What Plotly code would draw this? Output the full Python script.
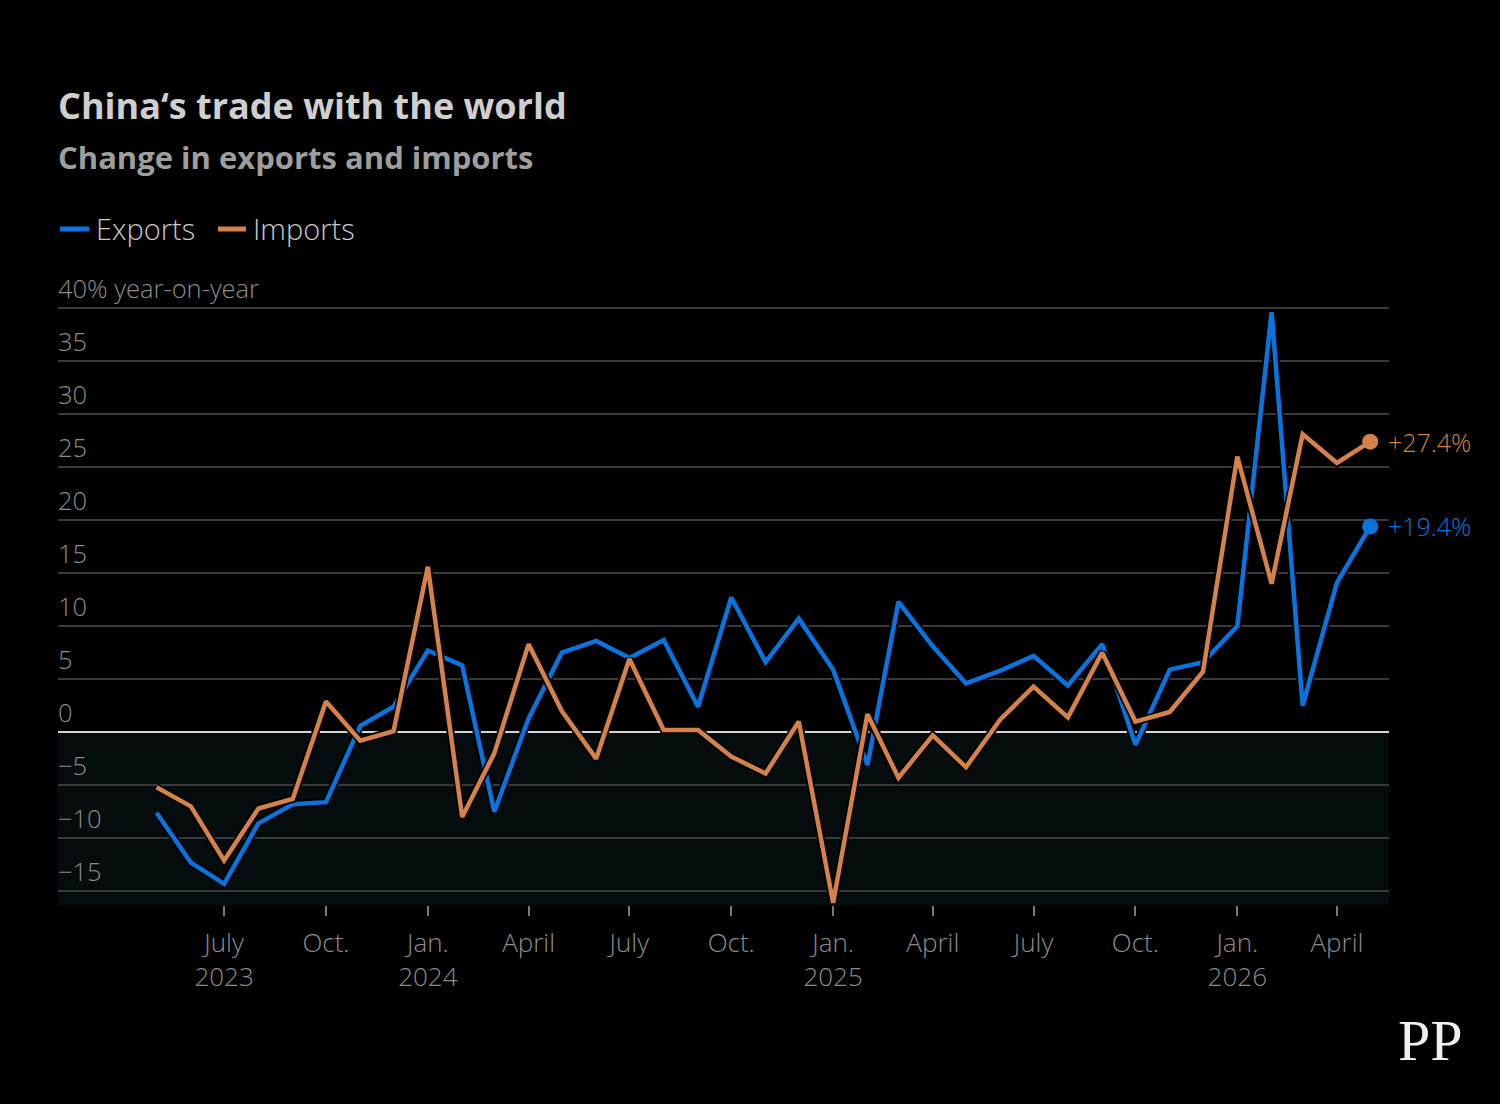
import plotly.graph_objects as go

months = ["2023-05-01", "2023-06-01", "2023-07-01", "2023-08-01", "2023-09-01", "2023-10-01",
          "2023-11-01", "2023-12-01", "2024-01-01", "2024-02-01", "2024-03-01", "2024-04-01",
          "2024-05-01", "2024-06-01", "2024-07-01", "2024-08-01", "2024-09-01", "2024-10-01",
          "2024-11-01", "2024-12-01", "2025-01-01", "2025-02-01", "2025-03-01", "2025-04-01",
          "2025-05-01", "2025-06-01", "2025-07-01", "2025-08-01", "2025-09-01", "2025-10-01",
          "2025-11-01", "2025-12-01", "2026-01-01", "2026-02-01", "2026-03-01", "2026-04-01",
          "2026-05-01"]

exports = [-7.6, -12.3, -14.3, -8.6, -6.8, -6.6, 0.6, 2.4, 7.7, 6.3, -7.5, 1.3,
           7.5, 8.6, 7.0, 8.7, 2.4, 12.7, 6.6, 10.7, 5.9, -3.1, 12.3, 8.1,
           4.6, 5.8, 7.2, 4.4, 8.3, -1.2, 5.9, 6.6, 10.0, 39.6, 2.5, 14.1, 19.4]

imports = [-5.2, -7.0, -12.1, -7.2, -6.3, 2.9, -0.8, 0.1, 15.6, -8.0, -2.0, 8.3,
           2.0, -2.5, 6.9, 0.2, 0.2, -2.3, -3.9, 1.0, -16.1, 1.7, -4.3, -0.3,
           -3.3, 1.2, 4.3, 1.4, 7.5, 1.0, 1.9, 5.7, 26.0, 14.0, 28.1, 25.4, 27.4]

y_ticks = [-15, -10, -5, 0, 5, 10, 15, 20, 25, 30, 35, 40]
y_tick_labels = ["\u221215", "\u221210", "\u22125", "0", "5", "10", "15", "20", "25", "30", "35",
                 "40% year-on-year"]

x_tick_dates = ["2023-07-01", "2023-10-01", "2024-01-01", "2024-04-01", "2024-07-01", "2024-10-01",
                "2025-01-01", "2025-04-01", "2025-07-01", "2025-10-01", "2026-01-01", "2026-04-01"]
x_tick_labels = ["July<br>2023", "Oct.", "Jan.<br>2024", "April", "July", "Oct.",
                 "Jan.<br>2025", "April", "July", "Oct.", "Jan.<br>2026", "April"]

BLUE = "#0a74de"
ORANGE = "#d4824a"
GREY = "#8c8c8c"
FONT = "Open Sans"

W, H = 1500, 1104
ML, MR, MT, MB = 58, 111, 307, 199
Y_MIN, Y_MAX = -16.3, 40.1


def px(xp):
    return (xp - ML) / (W - ML - MR)


def py(yp):
    return (H - MB - yp) / (H - MT - MB)


fig = go.Figure()

for name, vals, col in [("Exports", exports, BLUE), ("Imports", imports, ORANGE)]:
    fig.add_trace(go.Scatter(x=months, y=vals, mode="lines", line=dict(color="#000000", width=8),
                             hoverinfo="skip", showlegend=False))
    fig.add_trace(go.Scatter(x=months, y=vals, mode="lines", name=name,
                             line=dict(color=col, width=4.5), showlegend=False))
    fig.add_trace(go.Scatter(x=[months[-1]], y=[vals[-1]], mode="markers",
                             marker=dict(color=col, size=16), showlegend=False))
    fig.add_annotation(x=months[-1], y=vals[-1], xref="x", yref="y", text=f"+{vals[-1]:.1f}%",
                       showarrow=False, xanchor="left", yanchor="middle", xshift=16,
                       font=dict(family=FONT, size=25, color=col, weight=300))

# shaded negative area
fig.add_shape(type="rect", xref="paper", yref="y", x0=0, x1=1, y0=Y_MIN, y1=0,
              fillcolor="#050c0e", line=dict(width=0), layer="below")

# y tick labels above gridlines
for v, lab in zip(y_ticks, y_tick_labels):
    fig.add_annotation(x=0, xref="paper", y=v, yref="y", text=lab, showarrow=False,
                       xanchor="left", yanchor="bottom", yshift=1, xshift=-2,
                       font=dict(family=FONT, size=25.5, color=GREY, weight=300))

# title & subtitle
fig.add_annotation(x=px(58), y=py(105), xref="paper", yref="paper", text="<b>China\u2018s trade with the world</b>",
                   showarrow=False, xanchor="left", yanchor="middle", xshift=-2,
                   font=dict(family=FONT, size=36, color="#cfcfcf"))
fig.add_annotation(x=px(58), y=py(157), xref="paper", yref="paper", text="<b>Change in exports and imports</b>",
                   showarrow=False, xanchor="left", yanchor="middle", xshift=-2,
                   font=dict(family=FONT, size=31, color="#9e9e9e"))

# legend
for x0, x1, tx, lab, col in [(60, 89, 96, "Exports", BLUE), (218, 246, 253, "Imports", ORANGE)]:
    fig.add_shape(type="line", xref="paper", yref="paper", x0=px(x0), x1=px(x1), y0=py(229), y1=py(229),
                  line=dict(color=col, width=5))
    fig.add_annotation(x=px(tx), y=py(228), xref="paper", yref="paper", text=lab, showarrow=False,
                       xanchor="left", yanchor="middle", xshift=-2,
                       font=dict(family=FONT, size=29, color="#c8c8c8", weight=300))

# logo
fig.add_annotation(x=px(1430), y=py(1040), xref="paper", yref="paper", text="PP", showarrow=False,
                   xanchor="center", yanchor="middle",
                   font=dict(family="Liberation Serif", size=58, color="#f0f0f0"))

fig.update_layout(
    width=W, height=H,
    margin=dict(l=ML, r=MR, t=MT, b=MB, pad=0),
    paper_bgcolor="#000000", plot_bgcolor="#000000",
    showlegend=False,
    xaxis=dict(type="date", range=["2023-02-01", "2026-05-18"], tickvals=x_tick_dates,
               ticktext=x_tick_labels, ticks="outside", ticklen=10, tickwidth=1.5, tickcolor="#777777",
               ticklabelstandoff=5,
               showgrid=False, showline=False, zeroline=False,
               tickfont=dict(family=FONT, size=26, color=GREY, weight=300)),
    yaxis=dict(range=[Y_MIN, Y_MAX], tickvals=y_ticks, showticklabels=False, showgrid=True,
               gridcolor="#3a3a3a", gridwidth=1.5, zeroline=True, zerolinecolor="#d4d4d4",
               zerolinewidth=2, showline=False, ticks=""),
)

fig.write_html("out.html")
